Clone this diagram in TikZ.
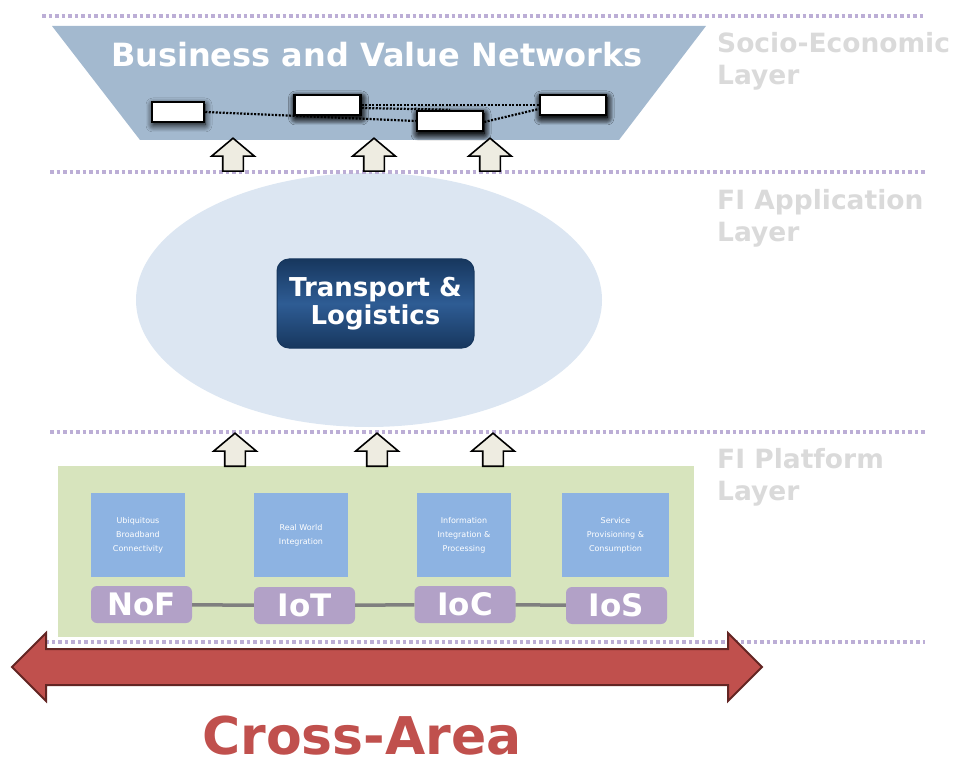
\documentclass[tikz,border=0pt]{standalone}
\usepackage{fontspec}
\setmainfont{DejaVu Sans}
\usetikzlibrary{positioning,shapes.arrows,shapes.geometric,shadows.blur}

\definecolor{bvnblue}{HTML}{A3B9CF}
\definecolor{appblue}{HTML}{DCE6F2}
\definecolor{tldark}{HTML}{17375E}
\definecolor{tlmid}{HTML}{2E5C94}
\definecolor{arrowbeige}{HTML}{EEECE1}
\definecolor{platgreen}{HTML}{D7E4BD}
\definecolor{areablue}{HTML}{8DB3E2}
\definecolor{netpurple}{HTML}{B2A1C7}
\definecolor{linkgrey}{HTML}{7F7F7F}
\definecolor{crossred}{HTML}{C0504D}
\definecolor{crossdark}{HTML}{632523}
\definecolor{dotlav}{HTML}{BCAED6}
\definecolor{labelgrey}{HTML}{DADADA}

\tikzset{
  layerline/.style={draw=dotlav, line width=3.5pt, dash pattern=on 3.5pt off 3pt},
  layerlabel/.style={anchor=base west, align=left, text=labelgrey, inner sep=0pt,
    font=\bfseries\fontsize{26.5}{32}\selectfont},
  actor/.style={draw=black, line width=2.5pt, fill=white, minimum width=66pt,
    minimum height=20pt, inner sep=0pt,
    blur shadow={shadow blur steps=10, shadow blur radius=7pt, shadow xshift=1pt,
      shadow yshift=-3pt, shadow opacity=100}},
  actorlink/.style={line width=2.2pt, dash pattern=on 2pt off 1.5pt},
  uparrow/.style={single arrow, draw=black, line width=1.6pt, fill=arrowbeige,
    shape border rotate=90, minimum height=33pt, inner sep=9.5pt,
    single arrow head extend=11pt, single arrow tip angle=100, anchor=tail},
  areabox/.style={fill=areablue, minimum width=94pt, minimum height=84pt, inner sep=0pt,
    align=center, text=white, font=\fontsize{8}{14}\selectfont},
  netbox/.style={fill=netpurple, rounded corners=6pt, minimum width=101pt,
    minimum height=37pt, inner sep=0pt, text=white, font=\bfseries\fontsize{31}{31}\selectfont},
  netlink/.style={draw=linkgrey, line width=3.5pt}
}

\begin{document}
\begin{tikzpicture}[x=1pt, y=-1pt]
  \useasboundingbox (0,0) rectangle (953,759);

  % socio-economic layer
  \fill[bvnblue] (52,26) -- (706,26) -- (619,140) -- (140,140) -- cycle;
  \node[text=white, font=\bfseries\fontsize{32}{32}\selectfont] (bvn) at (377,55) {Business and Value Networks};

  \node[actor, minimum width=52pt] (a1) at (178,112) {};
  \node[actor] (a2) at (327.5,105) {};
  \node[actor] (a3) at (450,121) {};
  \node[actor] (a4) at (573,105) {};
  \draw[actorlink] (a1.east) -- (a3.west);
  \draw[actorlink] (a2.east) -- (a4.west);
  \draw[actorlink] ([yshift=-3pt]a2.east) -- (a3.north);
  \draw[actorlink] ([yshift=-1pt]a3.east) -- ([yshift=-4pt]a4.west);
  \node[actor] at (a2) {};
  \node[actor] at (a3) {};
  \node[actor] at (a4) {};

  % application layer
  \node[ellipse, fill=appblue, minimum width=466pt, minimum height=254pt] (appfield) at (369,300) {};
  \node[draw=tldark, line width=1pt, rounded corners=12pt, top color=tldark, bottom color=tldark,
        middle color=tlmid, minimum width=197pt, minimum height=89pt, align=center, text=white,
        font=\bfseries\fontsize{26}{28.5}\selectfont] (tl) at (375.5,303.5) {Transport \&\\Logistics};

  % platform layer
  \node[fill=platgreen, minimum width=636pt, minimum height=171pt, inner sep=0pt] (platform) at (376,551.5) {};

  \node[areabox] (ubc) at (138,535) {Ubiquitous\\Broadband\\Connectivity};
  \node[areabox] (rwi) at (301,535) {Real World\\Integration};
  \node[areabox] (iip) at (464,535) {Information\\Integration \&\\Processing};
  \node[areabox, minimum width=107pt] (spc) at (615.5,535) {Service\\Provisioning \&\\Consumption};

  \node[netbox] (nof) at (141.5,604.5) {NoF};
  \node[netbox] (iot) at (304.5,605.5) {IoT};
  \node[netbox] (ioc) at (465,604.5) {IoC};
  \node[netbox] (ios) at (616.5,605.5) {IoS};
  \draw[netlink] (nof) -- (iot);
  \draw[netlink] (iot) -- (ioc);
  \draw[netlink] (ioc) -- (ios);

  % layer separators
  \draw[layerline] (42,16) -- (925,16);
  \draw[layerline] (50,172) -- (925,172);
  \draw[layerline] (50,432) -- (925,432);
  \draw[layerline] (45,642) -- (925,642);

  \node[layerlabel] (socio) at (717,85) {Socio-Economic\\Layer};
  \node[layerlabel] (fiapp) at (717,242) {FI Application\\Layer};
  \node[layerlabel] (fiplat) at (717,500) {FI Platform\\Layer};

  % arrows between layers
  \node[uparrow] (up1) at (233,172) {};
  \node[uparrow] (up2) at (374,172) {};
  \node[uparrow] (up3) at (490,172) {};
  \node[uparrow] (up4) at (235,467) {};
  \node[uparrow] (up5) at (377,467) {};
  \node[uparrow] (up6) at (493,467) {};

  % cross-area
  \node[double arrow, draw=crossdark, line width=2pt, fill=crossred, minimum height=750pt,
        inner sep=17pt, double arrow head extend=16pt] (cross) at (387,667) {};
  \node[anchor=base, inner sep=0pt, text depth=0pt, text=crossred,
        font=\bfseries\fontsize{52}{52}\selectfont] (crosslabel) at (362,754) {Cross-Area};
\end{tikzpicture}
\end{document}
